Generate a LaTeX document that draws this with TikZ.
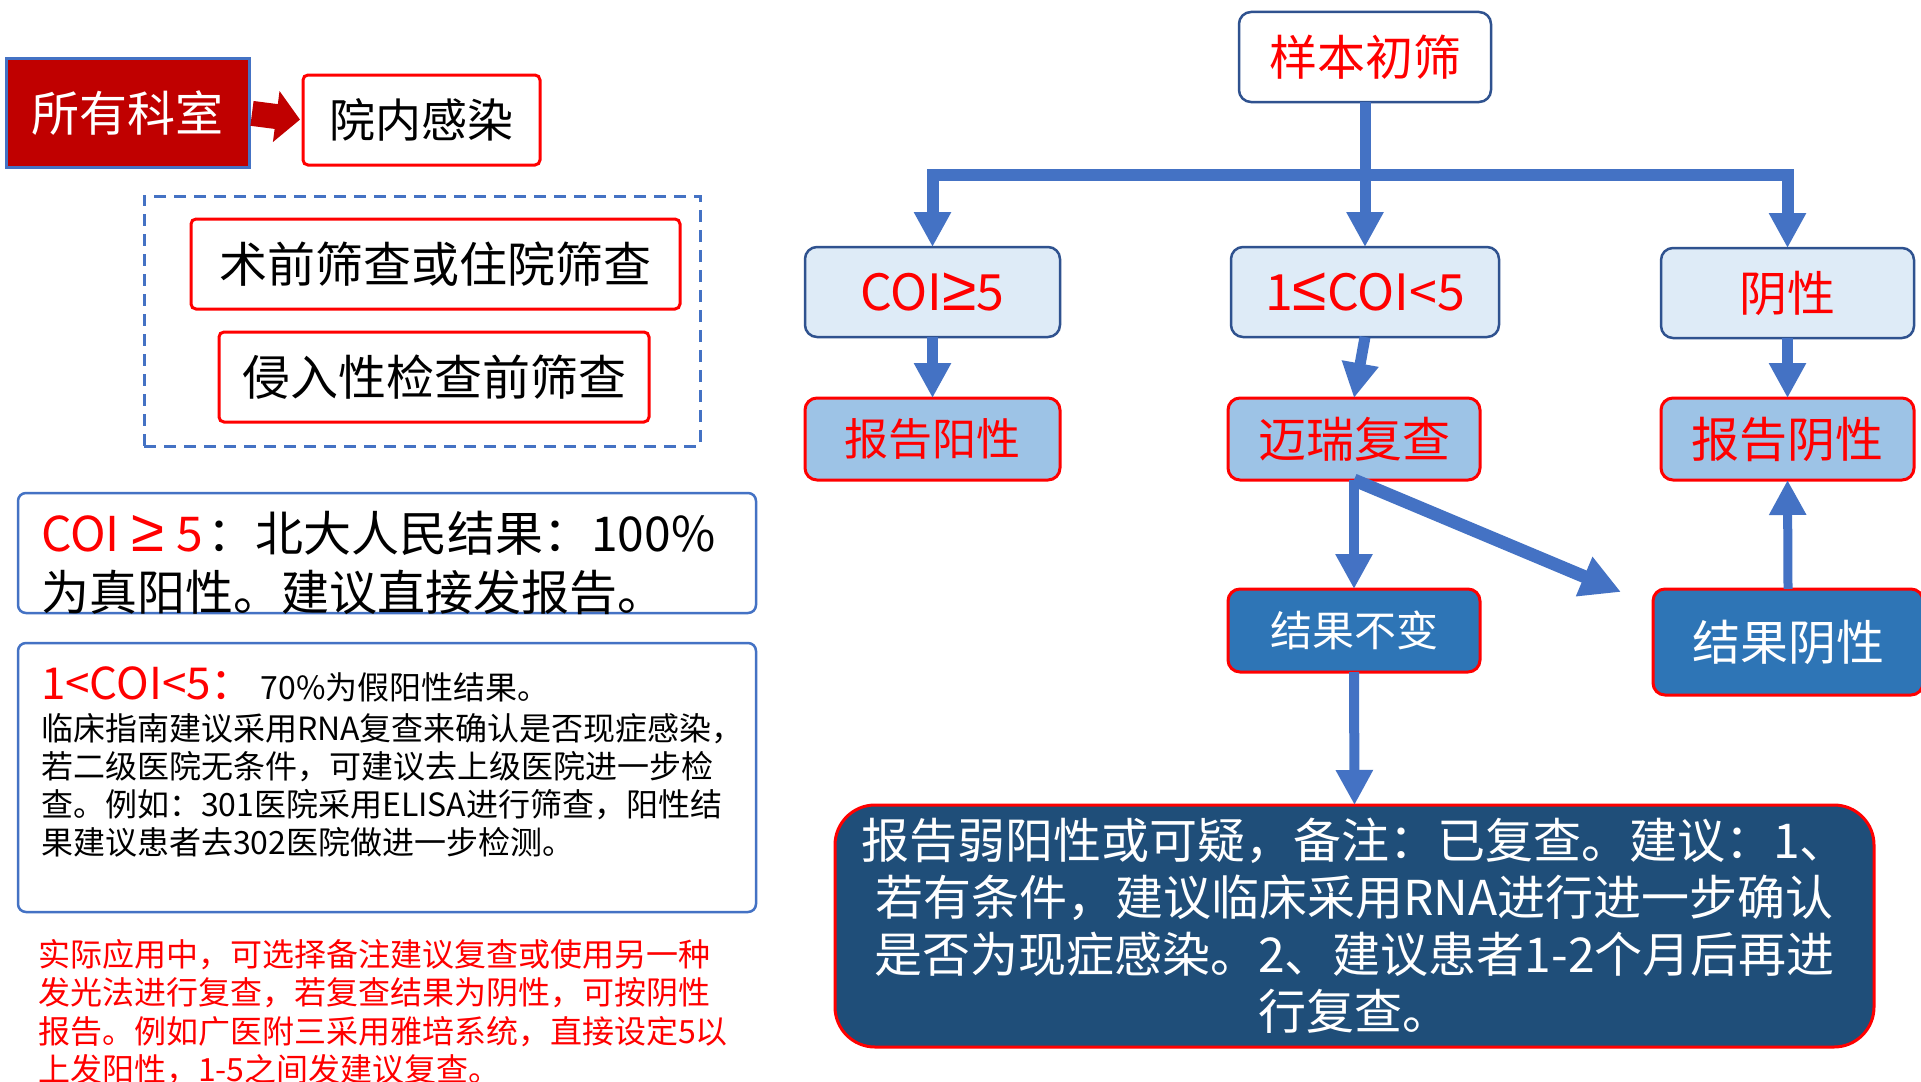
\documentclass[tikz,border=0pt]{standalone}
\usepackage{fontspec}
\setmainfont{Noto Sans CJK SC}
\newfontfamily\symf{Liberation Sans}[Scale=1.25]
\usetikzlibrary{arrows.meta}
\definecolor{aBlue}{HTML}{4472C4}
\definecolor{navy}{HTML}{2F528F}
\definecolor{lightfill}{HTML}{DEEBF7}
\definecolor{midfill}{HTML}{9DC3E6}
\definecolor{darkfill}{HTML}{2E75B6}
\definecolor{deepfill}{HTML}{1F4E79}
\definecolor{dred}{HTML}{C00000}
\definecolor{pred}{HTML}{FF0000}
\newcommand\setfs[2]{\fontsize{#1}{#2}\selectfont}
\begin{document}
\begin{tikzpicture}[x=1pt,y=-1pt,
  every node/.style={inner sep=0pt, outer sep=0pt},
  deptbox/.style={rectangle, draw=aBlue, line width=3pt, fill=dred, text=white, font=\setfs{48}{58}},
  plainbox/.style={rectangle, rounded corners=5pt, draw=pred, line width=3pt, fill=white, font=\setfs{48}{58}},
  noteframe/.style={rectangle, rounded corners=8pt, draw=aBlue, line width=2.5pt},
  lvlone/.style={rectangle, rounded corners=12pt, draw=navy, line width=2.5pt, fill=lightfill, text=pred, font=\setfs{50}{60}},
  lvltwo/.style={rectangle, rounded corners=12pt, draw=pred, line width=3pt, fill=midfill, text=pred, font=\setfs{48}{58}},
  lvlthree/.style={rectangle, rounded corners=12pt, draw=pred, line width=3pt, fill=darkfill, text=white, font=\setfs{48}{58}},
  arr/.style={draw=aBlue, line width=11pt, -{Triangle[length=35pt,width=35pt]}},
]
\useasboundingbox (0,0) rectangle (1921,1081);
\fill[white] (0,0) rectangle (1921,1081);

% ---------- left column ----------
\node[deptbox, minimum width=243pt, minimum height=108pt] (dept) at (127.5,113) {所有科室};
\node[plainbox, minimum width=237pt, minimum height=90pt, font=\setfs{46}{56}] (infect) at (421.5,120) {院内感染};
\draw[dred, line width=25pt, -{Triangle[length=24pt,width=50pt]}, shorten <=3pt, shorten >=3pt] (dept.east) -- (infect.west);

\node[rectangle, draw=aBlue, line width=3pt, dash pattern=on 12pt off 8pt, minimum width=556pt, minimum height=250pt] (frame) at (422,321) {};
\node[plainbox, minimum width=489pt, minimum height=90pt] (pre1) at (435.5,264) {术前筛查或住院筛查};
\node[plainbox, minimum width=430pt, minimum height=90pt] (pre2) at (434,377) {侵入性检查前筛查};

\node[noteframe, minimum width=738pt, minimum height=120pt] (note1) at (387,553) {};
\node[anchor=north west, align=left, font=\setfs{48}{59}] (note1text) at (41,511)
  {{\color{pred}COI\hspace{12pt}{\symf ≥}\hspace{12pt}5}\hspace{4pt}：北大人民结果：100\%\\为真阳性。建议直接发报告。};

\node[noteframe, minimum width=738pt, minimum height=269pt] (note2) at (387,777.5) {};
\node[anchor=north west, align=left, font=\setfs{32}{38}] (note2text) at (41,667)
  {{\color{pred}\setfs{44}{44}1<COI<5：\hspace{6pt}}70\%为假阳性结果。\\[3pt]
   临床指南建议采用RNA复查来确认是否现症感染，\\
   若二级医院无条件，可建议去上级医院进一步检\\
   查。例如：301医院采用ELISA进行筛查，阳性结\\
   果建议患者去302医院做进一步检测。};

\node[anchor=north west, align=left, text=pred, font=\setfs{32}{38.5}] (redtext) at (38,939)
  {实际应用中，可选择备注建议复查或使用另一种\\
   发光法进行复查，若复查结果为阴性，可按阴性\\
   报告。例如广医附三采用雅培系统，直接设定5以\\
   上发阳性，1-5之间发建议复查。};

% ---------- right column ----------
\node[rectangle, rounded corners=12pt, draw=navy, line width=2.5pt, fill=white, text=pred, font=\setfs{48}{58}, minimum width=252pt, minimum height=90pt] (s) at (1365,57) {样本初筛};

\node[lvlone, minimum width=255pt, minimum height=90pt] (c1) at (932.5,292) {COI{\symf ≥}5};
\node[lvlone, minimum width=268pt, minimum height=90pt] (c2) at (1365,292) {1{\symf ≤}COI<5};
\node[lvlone, minimum width=253pt, minimum height=90pt, font=\setfs{48}{58}] (c3) at (1787.5,293) {阴性};

\node[lvltwo, minimum width=255pt, minimum height=82pt, font=\setfs{44}{54}] (p1) at (932.5,439) {报告阳性};
\node[lvltwo, minimum width=252pt, minimum height=82pt] (m) at (1354,439) {迈瑞复查};
\node[lvltwo, minimum width=253pt, minimum height=82pt] (n2) at (1787.5,439) {报告阴性};

\node[lvlthree, minimum width=252pt, minimum height=83pt, font=\setfs{42}{50}] (r1) at (1354,630.5) {结果不变};
\node[lvlthree, minimum width=270pt, minimum height=106pt] (r2) at (1788,642) {结果阴性};

\node[rectangle, rounded corners=40pt, draw=pred, line width=3pt, fill=deepfill, text=white, align=center, font=\setfs{48}{57}, minimum width=1039pt, minimum height=242pt] (big) at (1354.5,926)
  {报告弱阳性或可疑，备注：已复查。建议：1、\\
   若有条件，建议临床采用RNA进行进一步确认\\
   是否为现症感染。2、建议患者1-2个月后再进\\
   行复查。};

% ---------- connectors ----------
\coordinate (bar) at (1365,175);
\coordinate (dg) at (1621,592);
\draw[arr] (s.south) -- (c2.north);
\draw[arr, line width=12pt] (bar) -| (c1.north);
\draw[arr, line width=12pt] (bar) -| (c3.north);
\draw[arr] (c1.south) -- (p1.north);
\draw[arr] (c2.south) -- (m.north);
\draw[arr] (c3.south) -- (n2.north);
\draw[arr, line width=10pt] (m.south) -- (r1.north);
\draw[arr, line width=13pt, -{Triangle[length=40pt,width=40pt]}] (m.south) -- (dg);
\draw[arr, line width=10pt] (r1.south) -- (big.north);
\draw[arr, line width=9pt] (r2.north) -- (n2.south);
\end{tikzpicture}
\end{document}
